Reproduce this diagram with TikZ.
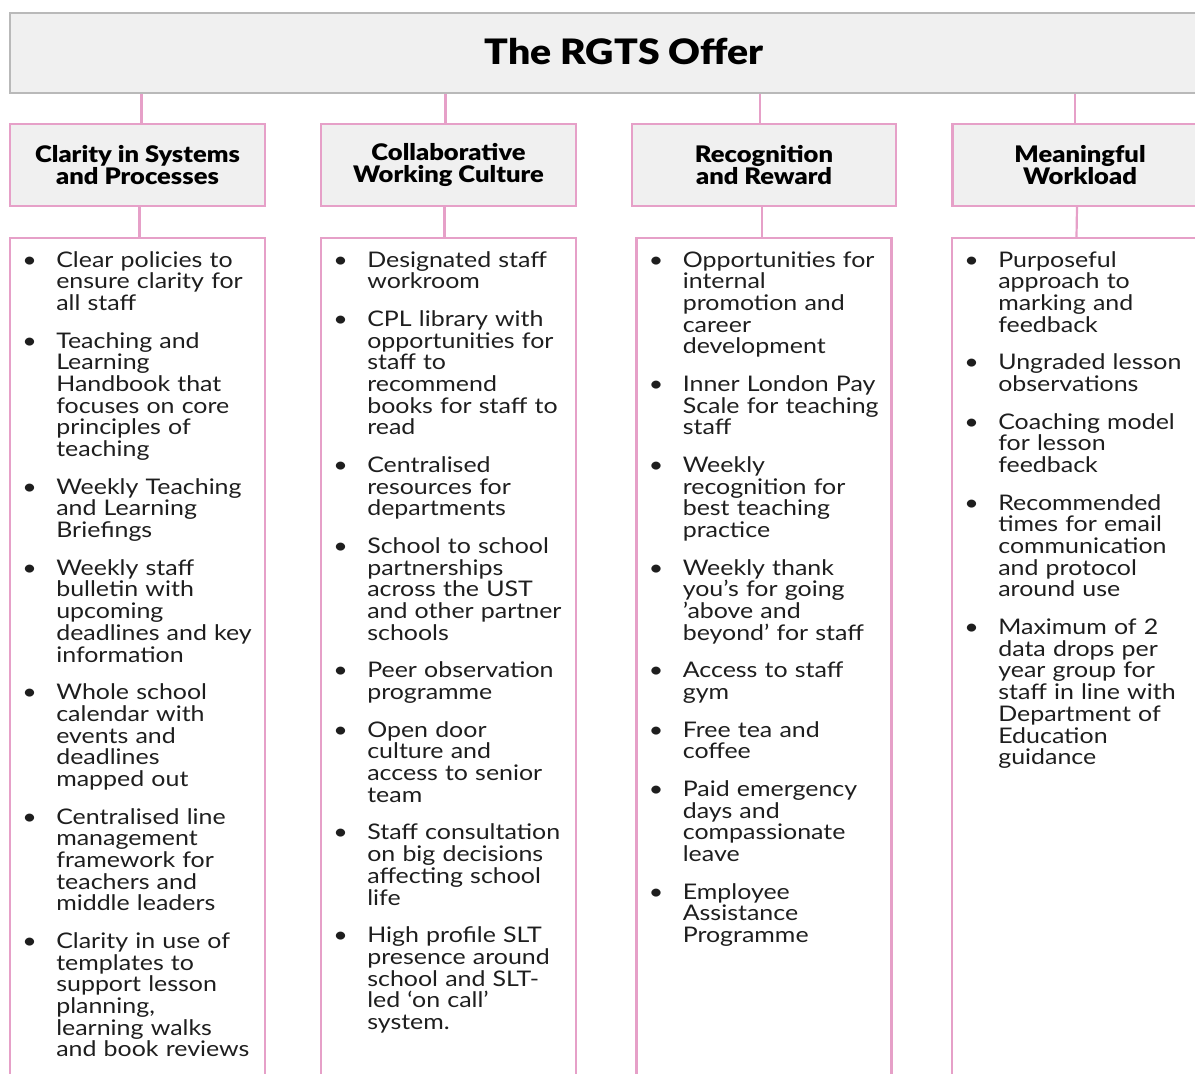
\documentclass[tikz,border=0pt]{standalone}
\usepackage{fontspec}
\setmainfont{Lato}[FakeStretch=1.16]
\newfontfamily\headfont{Lato Black}[FakeStretch=1.12]
\usepackage{enumitem}
\usetikzlibrary{positioning}
\definecolor{rgtspink}{HTML}{E6A0C8}
\definecolor{rgtsgrey}{HTML}{B9B9B9}
\definecolor{rgtsfill}{HTML}{F0F0F0}
\definecolor{rgtstext}{HTML}{1E1E1E}
\tikzset{%
    titlebox/.style={draw=rgtsgrey,line width=1.4pt,fill=rgtsfill,minimum width=614pt,minimum height=40pt,inner sep=0pt,font=\headfont\fontsize{17.5}{18}\selectfont},
    headbox/.style={draw=rgtspink,line width=1.1pt,fill=rgtsfill,minimum width=127.5pt,minimum height=41pt,inner sep=0pt,align=center,font=\headfont\fontsize{11.4}{11}\selectfont},
    listbox/.style={draw=rgtspink,line width=1.1pt,minimum width=127.5pt,minimum height=450pt,anchor=north,inner sep=0pt},
    listtext/.style={anchor=north west,inner sep=0pt,text width=145pt,text=rgtstext,font=\fontsize{10.75}{10.85}\selectfont},
    link/.style={draw=rgtspink,line width=1.1pt}
}
\newcommand{\offeritems}[1]{\begin{itemize}[label=\textbullet,leftmargin=23.5pt,labelwidth=17pt,labelsep=0pt,align=left,topsep=0pt,partopsep=0pt,parsep=0pt,itemsep=7.95pt]#1\end{itemize}}

\begin{document}
\begin{tikzpicture}[x=0.5pt,y=-0.5pt]
        \useasboundingbox (0,0) rectangle (1195,1073);
        \clip (0,0) rectangle (1195,1073);
        \node[titlebox] (offer) at (624,53){\raisebox{1.5pt}{The RGTS Offer}};
        \node[headbox] (clarity) at (137.5,165){Clarity in Systems\\and Processes};
        \node[headbox] (collab) at (448.5,165){Collaborative\\Working Culture};
        \node[headbox,minimum width=132pt] (recog) at (764,165){Recognition\\and Reward};
        \node[headbox] (workload) at (1080,165){Meaningful\\Workload};
        \node[listbox] (clarityL) at (137.5,237){};
        \node[listbox] (collabL) at (448.5,237){};
        \node[listbox] (recogL) at (764,237){};
        \node[listbox] (workloadL) at (1079.5,237){};
        \draw[link] ([xshift=2pt]clarity.north) -- ([xshift=2pt]clarity.north |- offer.south);
        \draw[link] ([xshift=-1.5pt]collab.north) -- ([xshift=-1.5pt]collab.north |- offer.south);
        \draw[link] ([xshift=-2pt]recog.north) -- ([xshift=-2pt]recog.north |- offer.south);
        \draw[link] ([xshift=-2.5pt]workload.north) -- ([xshift=-2.5pt]workload.north |- offer.south);
        \draw[link] ([xshift=1pt]clarity.south) -- ([xshift=1pt]clarityL.north);
        \draw[link] ([xshift=-2pt]collab.south) -- ([xshift=-2pt]collabL.north);
        \draw[link] ([xshift=-1pt]recog.south) -- ([xshift=-1pt]recogL.north);
        \draw[link] ([xshift=-1.5pt]workload.south) -- ([xshift=-1.5pt]workloadL.north);
        \node[listtext] (clarityT) at ([yshift=-4pt]clarityL.north west){\offeritems{%
            \item Clear policies to\\ensure clarity for\\all staff
            \item Teaching and\\Learning\\Handbook that\\focuses on core\\principles of\\teaching
            \item Weekly Teaching\\and Learning\\Briefings
            \item Weekly staff\\bulletin with\\upcoming\\deadlines and key\\information
            \item Whole school\\calendar with\\events and\\deadlines\\mapped out
            \item Centralised line\\management\\framework for\\teachers and\\middle leaders
            \item Clarity in use of\\templates to\\support lesson\\planning,\\learning walks\\and book reviews}};
        \node[listtext] (collabT) at ([yshift=-4pt]collabL.north west){\offeritems{%
            \item Designated staff\\workroom
            \item CPL library with\\opportunities for\\staff to\\recommend\\books for staff to\\read
            \item Centralised\\resources for\\departments
            \item School to school\\partnerships\\across the UST\\and other partner\\schools
            \item Peer observation\\programme
            \item Open door\\culture and\\access to senior\\team
            \item Staff consultation\\on big decisions\\affecting school\\life
            \item High profile SLT\\presence around\\school and SLT-\\led ‘on call’\\system.}};
        \node[listtext] (recogT) at ([yshift=-4pt]recogL.north west){\offeritems{%
            \item Opportunities for\\internal\\promotion and\\career\\development
            \item Inner London Pay\\Scale for teaching\\staff
            \item Weekly\\recognition for\\best teaching\\practice
            \item Weekly thank\\you’s for going\\’above and\\beyond’ for staff
            \item Access to staff\\gym
            \item Free tea and\\coffee
            \item Paid emergency\\days and\\compassionate\\leave
            \item Employee\\Assistance\\Programme}};
        \node[listtext] (workloadT) at ([yshift=-4pt]workloadL.north west){\offeritems{%
            \item Purposeful\\approach to\\marking and\\feedback
            \item Ungraded lesson\\observations
            \item Coaching model\\for lesson\\feedback
            \item Recommended\\times for email\\communication\\and protocol\\around use
            \item Maximum of 2\\data drops per\\year group for\\staff in line with\\Department of\\Education\\guidance}};
    \end{tikzpicture}
\end{document}
